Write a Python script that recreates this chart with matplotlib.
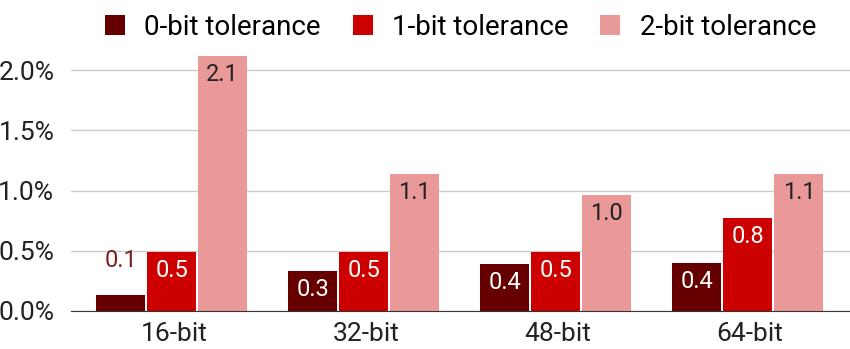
import numpy as np
import matplotlib.pyplot as plt
from matplotlib.ticker import FuncFormatter

plt.rcParams['font.family'] = ['Roboto', 'DejaVu Sans']

categories = ['16-bit', '32-bit', '48-bit', '64-bit']
series_names = ['0-bit tolerance', '1-bit tolerance', '2-bit tolerance']
tol0 = [0.13, 0.33, 0.39, 0.40]
tol1 = [0.49, 0.49, 0.49, 0.77]
tol2 = [2.12, 1.14, 0.96, 1.14]

colors = ['#660000', '#cc0000', '#ea9999']
label_colors = ['white', 'white', '#222222']

fig = plt.figure(figsize=(8.5, 3.49), dpi=100)
ax = fig.add_axes([0.0835, 0.109, 0.9165, 0.759])

x = np.arange(len(categories))
width = 0.255
pitch = 0.266
for i, (vals, name) in enumerate(zip([tol0, tol1, tol2], series_names)):
    pos = x + (i - 1) * pitch - 0.012
    bars = ax.bar(pos, vals, width, color=colors[i], label=name, zorder=3)
    for b, v in zip(bars, vals):
        cx = b.get_x() + b.get_width() / 2
        if v < 0.2:
            ax.annotate(f'{v:.1f}', (cx, v), xytext=(0, 17), textcoords='offset points',
                        ha='center', va='bottom', fontsize=17, color='#7a1f1f', zorder=4)
        else:
            ax.annotate(f'{v:.1f}', (cx, v), xytext=(0, -5), textcoords='offset points',
                        ha='center', va='top', fontsize=17, color=label_colors[i], zorder=4)

ax.set_xlim(-0.536, 3.52)
ax.set_ylim(0, 2.2)
ax.set_yticks([0, 0.5, 1.0, 1.5, 2.0])
ax.yaxis.set_major_formatter(FuncFormatter(lambda v, p: f'{v:.1f}%'))
ax.set_xticks(x)
ax.set_xticklabels(categories)
ax.tick_params(axis='both', length=0, labelsize=19, colors='#222222')
ax.tick_params(axis='x', pad=8)
ax.tick_params(axis='y', pad=12)
ax.grid(axis='y', color='#cccccc', linewidth=1, zorder=0)
for s in ['top', 'right', 'left']:
    ax.spines[s].set_visible(False)
ax.spines['bottom'].set_color('#333333')
ax.spines['bottom'].set_zorder(5)

ax.legend(loc='lower center', bbox_to_anchor=(0.5, 1.0), ncol=3, frameon=False,
          fontsize=20, handlelength=0.72, handleheight=0.72, columnspacing=1.15,
          handletextpad=0.7, borderaxespad=0.0, borderpad=0.2)

fig.savefig('out.png', dpi=100)
